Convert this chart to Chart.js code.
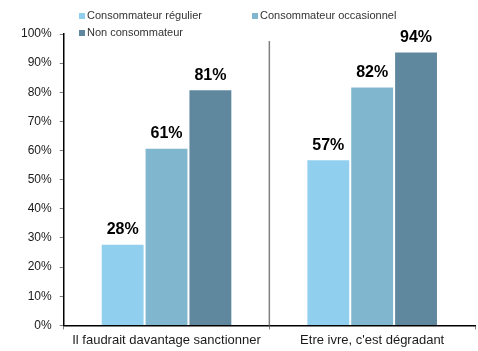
<!DOCTYPE html>
<html>
<head>
<meta charset="utf-8">
<script src="https://cdn.jsdelivr.net/npm/chart.js@4/dist/chart.umd.min.js"></script>
<style>
  html, body { margin: 0; padding: 0; background: #fff; }
  #wrap { width: 478px; height: 351px; }
</style>
</head>
<body>
<div id="wrap"><canvas id="chart"></canvas></div>
<script>
// données
const categories = ['Il faudrait davantage sanctionner', "Etre ivre, c'est dégradant"];
const seriesNames = ['Consommateur régulier', 'Consommateur occasionnel', 'Non consommateur'];
const regulier    = [28, 57];
const occasionnel = [61, 82];
const nonConso    = [81, 94];
const yTicks = [0, 10, 20, 30, 40, 50, 60, 70, 80, 90, 100];

const COLORS = ['#91CFEE', '#80B7CF', '#5F879D'];
const FONT = "'Liberation Sans', Arial, sans-serif";

Chart.defaults.font.family = FONT;
Chart.defaults.color = '#1a1a1a';

// légende dessinée à la main (elle chevauche la zone du graphique)
const legendPlugin = {
  id: 'manualLegend',
  afterDraw(chart) {
    const { ctx } = chart;
    const spots = [[79, 16], [252, 16], [79, 33]];
    ctx.save();
    ctx.font = `11px ${FONT}`;
    ctx.textBaseline = 'middle';
    ctx.textAlign = 'left';
    chart.data.datasets.forEach((ds, i) => {
      const [x, y] = spots[i];
      ctx.fillStyle = ds.backgroundColor;
      ctx.fillRect(x, y - 3, 6, 6);
      ctx.fillStyle = '#333';
      ctx.fillText(ds.label, x + 8, y);
    });
    ctx.restore();
  },
};

// séparateur vertical entre les deux groupes + étiquettes de valeurs
const extrasPlugin = {
  id: 'extras',
  afterDatasetsDraw(chart) {
    const { ctx, chartArea } = chart;
    const xs = chart.scales.x;
    const mid = (xs.getPixelForValue(0) + xs.getPixelForValue(1)) / 2;
    ctx.save();
    ctx.strokeStyle = '#808080';
    ctx.lineWidth = 1.5;
    ctx.beginPath();
    ctx.moveTo(mid, chartArea.top + 7);
    ctx.lineTo(mid, chartArea.bottom);
    ctx.stroke();

    ctx.font = `bold 16px ${FONT}`;
    ctx.fillStyle = '#000';
    ctx.textAlign = 'center';
    ctx.textBaseline = 'middle';
    chart.data.datasets.forEach((ds, i) => {
      chart.getDatasetMeta(i).data.forEach((bar, j) => {
        ctx.fillText(ds.data[j] + '%', bar.x, bar.y - 14);
      });
    });
    ctx.restore();
  },
};

new Chart(document.getElementById('chart'), {
  type: 'bar',
  data: {
    labels: categories,
    datasets: [regulier, occasionnel, nonConso].map((d, i) => ({
      label: seriesNames[i],
      data: d,
      backgroundColor: COLORS[i],
      borderColor: 'rgba(255,255,255,0.35)',
      borderWidth: 1,
      categoryPercentage: 0.64,
      barPercentage: 1,
    })),
  },
  options: {
    responsive: true,
    maintainAspectRatio: false,
    animation: false,
    layout: { padding: { top: 34, left: 13, right: 3, bottom: 0 } },
    plugins: {
      legend: { display: false },
      tooltip: { enabled: false },
    },
    scales: {
      x: {
        grid: { drawOnChartArea: false, tickLength: 4, color: '#808080' },
        border: { color: '#000', width: 1.5 },
        ticks: { font: { size: 13 }, color: '#1a1a1a', padding: 3 },
      },
      y: {
        min: 0,
        max: 100,
        afterBuildTicks: axis => { axis.ticks = yTicks.map(v => ({ value: v })); },
        grid: { drawOnChartArea: false, tickLength: 4, color: '#808080' },
        border: { color: '#000', width: 1.5 },
        ticks: { font: { size: 12 }, color: '#1a1a1a', padding: 8, callback: v => v + '%' },
      },
    },
  },
  plugins: [legendPlugin, extrasPlugin],
});
</script>
</body>
</html>
